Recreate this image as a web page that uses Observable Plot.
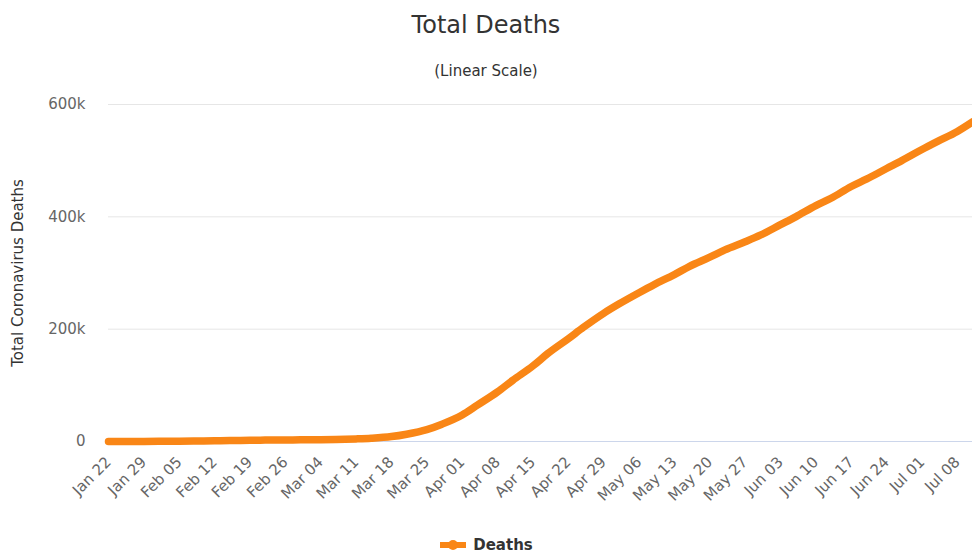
<!DOCTYPE html>
<html>
<head>
<meta charset="utf-8">
<script src="https://cdn.jsdelivr.net/npm/d3@7"></script>
<script src="https://cdn.jsdelivr.net/npm/@observablehq/plot@0.6"></script>
<style>
  html, body { margin: 0; padding: 0; background: #fff; }
  body { width: 972px; height: 553px; position: relative; overflow: hidden; font-family: "DejaVu Sans", sans-serif; }
  #title { position: absolute; left: 0; top: 0; width: 972px; height: 50px; line-height: 50px; text-align: center; font-size: 24px; color: #333; }
  #subtitle { position: absolute; left: 0; top: 52px; width: 972px; height: 38px; line-height: 38px; text-align: center; font-size: 15px; color: #333; }
  #chart { position: absolute; left: 0; top: 92px; }
  #legend { position: absolute; left: 0; top: 534px; width: 972px; height: 22px; display: flex; justify-content: center; align-items: center; font-size: 15px; font-weight: bold; color: #333; }
  #legend svg { margin-right: 6px; }
</style>
</head>
<body>
<div id="title">Total Deaths</div>
<div id="subtitle">(Linear Scale)</div>
<div id="chart"></div>
<div id="legend"><svg width="28" height="14"><line x1="1" y1="7" x2="27" y2="7" stroke="#f98616" stroke-width="6"/><circle cx="14" cy="7" r="5" fill="#f98616"/></svg><span>Deaths</span></div>
<script>
const dates = [
  "2020-01-22","2020-01-25","2020-01-29","2020-02-01","2020-02-05","2020-02-08",
  "2020-02-12","2020-02-15","2020-02-19","2020-02-22","2020-02-26","2020-02-29",
  "2020-03-04","2020-03-07","2020-03-11","2020-03-14","2020-03-18","2020-03-21",
  "2020-03-25","2020-03-28","2020-04-01","2020-04-04","2020-04-08","2020-04-11",
  "2020-04-15","2020-04-18","2020-04-22","2020-04-25","2020-04-29","2020-05-02",
  "2020-05-06","2020-05-09","2020-05-13","2020-05-16","2020-05-20","2020-05-23",
  "2020-05-27","2020-05-30","2020-06-03","2020-06-06","2020-06-10","2020-06-13",
  "2020-06-17","2020-06-20","2020-06-24","2020-06-27","2020-07-01","2020-07-04",
  "2020-07-08","2020-07-11"
];
const deaths = [
  17, 56, 133, 259, 565, 813,
  1118, 1666, 2012, 2462, 2770, 2941,
  3286, 3558, 4615, 5819, 8733, 13012,
  21181, 30861, 47208, 64691, 88338, 108828,
  134615, 157000, 183027, 203289, 228239, 244664,
  264837, 279311, 297197, 311847, 328115, 341155,
  355629, 367356, 386000, 400000, 420000, 433000,
  454000, 467000, 486000, 500000, 520000, 534000,
  552000, 569000
];
const xTickDates = [
  "2020-01-22","2020-01-29","2020-02-05","2020-02-12","2020-02-19","2020-02-26",
  "2020-03-04","2020-03-11","2020-03-18","2020-03-25","2020-04-01","2020-04-08",
  "2020-04-15","2020-04-22","2020-04-29","2020-05-06","2020-05-13","2020-05-20",
  "2020-05-27","2020-06-03","2020-06-10","2020-06-17","2020-06-24","2020-07-01",
  "2020-07-08"
];
const yTicks = [0, 200000, 400000, 600000];
const yTickLabels = ["0", "200k", "400k", "600k"];
const xDomain = ["2020-01-22", "2020-07-11"];

const data = dates.map((d, i) => ({date: new Date(d), deaths: deaths[i]}));

const chart = Plot.plot({
  width: 972,
  height: 440,
  marginTop: 12,
  marginLeft: 108,
  marginRight: 0,
  marginBottom: 91,
  style: {fontFamily: "DejaVu Sans", fontSize: "14px", color: "#666", background: "white"},
  x: {type: "utc", domain: xDomain.map(d => new Date(d))},
  y: {domain: [0, 600000]},
  marks: [
    Plot.gridY(yTicks, {stroke: "#e6e6e6", strokeOpacity: 1}),
    Plot.ruleY([0], {stroke: "#ccd6eb", strokeWidth: 1}),
    Plot.axisY(yTicks, {tickSize: 0, tickPadding: 23, fontSize: 15, fill: "#666",
      tickFormat: d => yTickLabels[yTicks.indexOf(d)], label: null}),
    Plot.text(["Total Coronavirus Deaths"], {frameAnchor: "left", textAnchor: "middle", rotate: -90, dx: -90, fill: "#333", fontSize: 15}),
    Plot.axisX(xTickDates.map(d => new Date(d)), {tickSize: 0, tickPadding: 18, tickRotate: -45,
      fontSize: 15, fill: "#666", tickFormat: d3.utcFormat("%b %d"), label: null}),
    Plot.line(data, {x: "date", y: "deaths", stroke: "#f98616", strokeWidth: 7.5, curve: "monotone-x", strokeLinecap: "round"})
  ]
});
document.getElementById("chart").appendChild(chart);
</script>
</body>
</html>
